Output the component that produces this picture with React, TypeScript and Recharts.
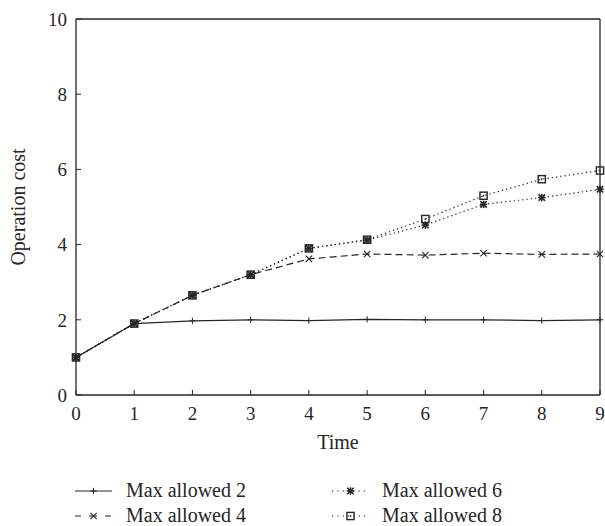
import React from 'react';
import { LineChart, Line, XAxis, YAxis } from 'recharts';

const times = [0, 1, 2, 3, 4, 5, 6, 7, 8, 9];
const maxAllowed2 = [1.0, 1.9, 1.97, 2.0, 1.98, 2.01, 2.0, 2.0, 1.98, 2.0];
const maxAllowed4 = [1.0, 1.9, 2.65, 3.2, 3.62, 3.75, 3.72, 3.77, 3.74, 3.75];
const maxAllowed6 = [1.0, 1.9, 2.65, 3.2, 3.9, 4.12, 4.52, 5.07, 5.25, 5.47];
const maxAllowed8 = [1.0, 1.9, 2.65, 3.2, 3.9, 4.13, 4.68, 5.3, 5.74, 5.97];
const xTicks = [0, 1, 2, 3, 4, 5, 6, 7, 8, 9];
const yTicks = [0, 2, 4, 6, 8, 10];
const seriesNames = ['Max allowed 2', 'Max allowed 4', 'Max allowed 6', 'Max allowed 8'];

const data = times.map((t, i) => ({
  time: t,
  s2: maxAllowed2[i],
  s4: maxAllowed4[i],
  s6: maxAllowed6[i],
  s8: maxAllowed8[i],
}));

const INK = '#262626';
const FONT = 'Liberation Serif, serif';

type MarkerKind = 'plus' | 'cross' | 'star' | 'square';

const Marker = ({ kind, cx, cy }: { kind: MarkerKind; cx: number; cy: number }) => {
  if (cx == null || cy == null || isNaN(cx) || isNaN(cy)) return null;
  const s = 3.2;
  if (kind === 'plus') {
    return (
      <g stroke={INK} strokeWidth={1}>
        <line x1={cx - s} y1={cy} x2={cx + s} y2={cy} />
        <line x1={cx} y1={cy - s} x2={cx} y2={cy + s} />
      </g>
    );
  }
  if (kind === 'cross') {
    return (
      <g stroke={INK} strokeWidth={1.1}>
        <line x1={cx - s} y1={cy - s} x2={cx + s} y2={cy + s} />
        <line x1={cx - s} y1={cy + s} x2={cx + s} y2={cy - s} />
      </g>
    );
  }
  if (kind === 'star') {
    return (
      <g stroke={INK} strokeWidth={1.6}>
        <line x1={cx - s} y1={cy - s} x2={cx + s} y2={cy + s} />
        <line x1={cx - s} y1={cy + s} x2={cx + s} y2={cy - s} />
        <line x1={cx - s - 0.5} y1={cy} x2={cx + s + 0.5} y2={cy} />
        <line x1={cx} y1={cy - s - 0.5} x2={cx} y2={cy + s + 0.5} />
      </g>
    );
  }
  return (
    <g>
      <rect x={cx - 3.6} y={cy - 3.6} width={7.2} height={7.2} fill="none" stroke={INK} strokeWidth={1.4} />
      <rect x={cx - 0.8} y={cy - 0.8} width={1.6} height={1.6} fill={INK} />
    </g>
  );
};

const series = [
  { key: 's2', name: seriesNames[0], dash: undefined as string | undefined, legendDash: undefined as string | undefined, marker: 'plus' as MarkerKind },
  { key: 's4', name: seriesNames[1], dash: '7 4', legendDash: '6 8 8 8', marker: 'cross' as MarkerKind },
  { key: 's6', name: seriesNames[2], dash: '1.3 3', legendDash: '1.3 4', marker: 'star' as MarkerKind },
  { key: 's8', name: seriesNames[3], dash: '1.3 3', legendDash: '1.3 4', marker: 'square' as MarkerKind },
];

const legendPos = [
  { sx: 75, tx: 126, y: 491 },
  { sx: 75, tx: 126, y: 516 },
  { sx: 332, tx: 382, y: 491 },
  { sx: 332, tx: 382, y: 516 },
];

const Legend = () => (
  <svg width={605} height={526} style={{ position: 'absolute', left: 0, top: 0, pointerEvents: 'none' }}>
    {series.map((s, i) => {
      const p = legendPos[i];
      return (
        <g key={s.key}>
          <line x1={p.sx} y1={p.y} x2={p.sx + 37} y2={p.y} stroke={INK} strokeWidth={1.2} strokeDasharray={s.legendDash} />
          <Marker kind={s.marker} cx={p.sx + 18.5} cy={p.y} />
          <text x={p.tx} y={p.y + 6} fill={INK} style={{ fontFamily: FONT, fontSize: 20 }}>
            {s.name}
          </text>
        </g>
      );
    })}
  </svg>
);

const tickStyle = { fill: INK, style: { fontFamily: FONT, fontSize: 19 } };

export default function App() {
  return (
    <div style={{ position: 'absolute', left: 0, top: 0, width: 605, height: 526, background: '#fff', fontFamily: FONT }}>
      <LineChart width={605} height={526} data={data} margin={{ top: 18, right: 4, left: 0, bottom: 71 }} style={{ fontFamily: FONT }}>
        <XAxis
          dataKey="time"
          type="number"
          domain={[0, 9]}
          ticks={xTicks}
          interval={0}
          stroke={INK}
          axisLine={{ stroke: INK, strokeWidth: 1.3 }}
          tickLine={{ stroke: INK }}
          tickSize={-5}
          tickMargin={17}
          height={60}
          tick={tickStyle}
          label={{ value: 'Time', position: 'insideBottom', offset: 6, fill: INK, style: { fontFamily: FONT, fontSize: 20 } }}
        />
        <XAxis
          xAxisId="top"
          orientation="top"
          type="number"
          domain={[0, 9]}
          ticks={xTicks}
          interval={0}
          height={1}
          tickSize={-5}
          tick={false}
          axisLine={{ stroke: INK, strokeWidth: 1.3 }}
          tickLine={{ stroke: INK }}
        />
        <YAxis
          type="number"
          domain={[0, 10]}
          ticks={yTicks}
          interval={0}
          width={76}
          axisLine={{ stroke: INK, strokeWidth: 1.3 }}
          tickLine={{ stroke: INK }}
          tickSize={-5}
          tickMargin={14}
          tick={tickStyle}
          label={{ value: 'Operation cost', angle: -90, position: 'insideLeft', offset: 18, fill: INK, style: { textAnchor: 'middle', fontFamily: FONT, fontSize: 20 } }}
        />
        <YAxis
          yAxisId="right"
          orientation="right"
          type="number"
          domain={[0, 10]}
          ticks={yTicks}
          interval={0}
          width={1}
          tickSize={-5}
          tick={false}
          axisLine={{ stroke: INK, strokeWidth: 1.3 }}
          tickLine={{ stroke: INK }}
        />
        {series.map((s) => (
          <Line
            key={s.key}
            dataKey={s.key}
            name={s.name}
            type="linear"
            stroke={INK}
            strokeWidth={1.2}
            strokeDasharray={s.dash}
            isAnimationActive={false}
            dot={(props: any) => <Marker key={`${s.key}-${props.index}`} kind={s.marker} cx={props.cx} cy={props.cy} />}
            activeDot={false}
          />
        ))}
      </LineChart>
      <Legend />
    </div>
  );
}
